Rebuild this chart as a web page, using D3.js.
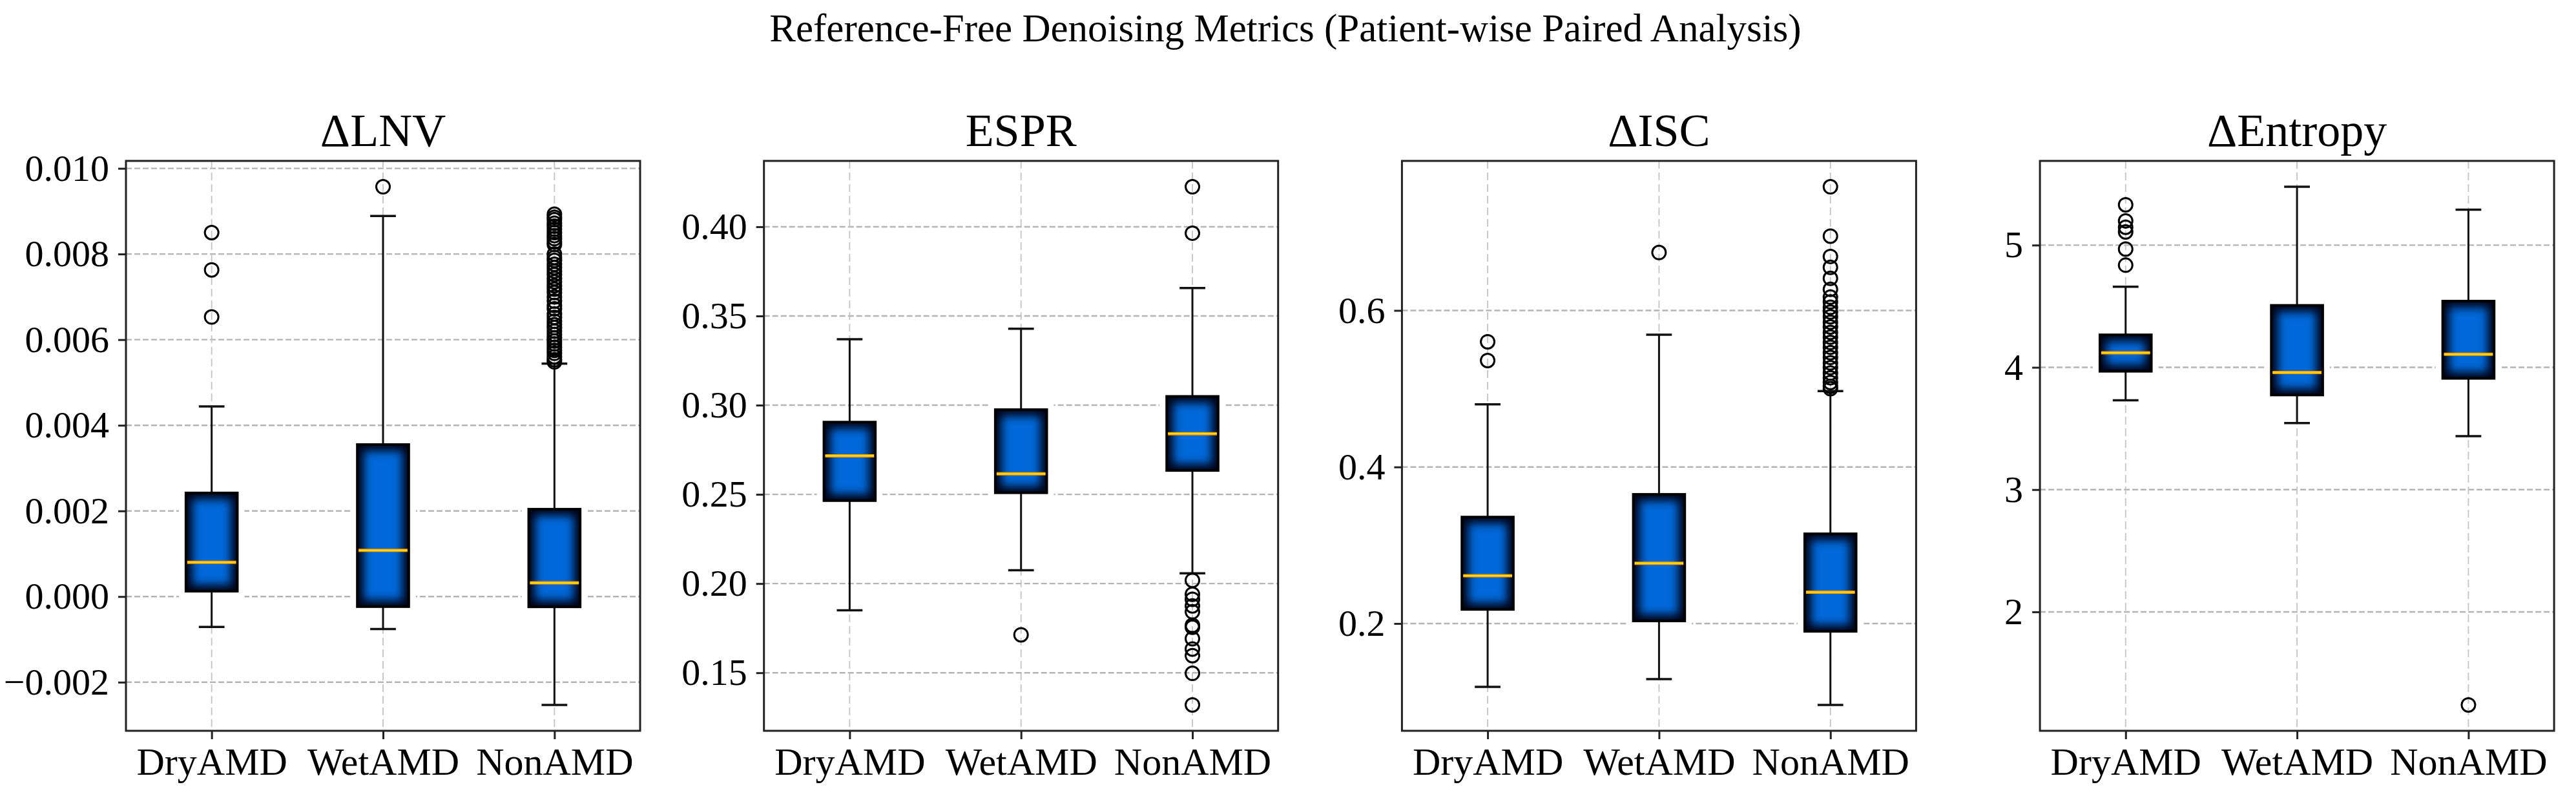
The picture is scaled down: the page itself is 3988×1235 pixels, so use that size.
<!DOCTYPE html>
<html>
<head>
<meta charset="utf-8">
<script src="https://cdn.jsdelivr.net/npm/d3@7"></script>
<style>
  body { margin: 0; background: #fff; }
  text { font-family: "Liberation Serif", "DejaVu Serif", serif; fill: #000; }
</style>
</head>
<body>
<script>
// groups along the x axis
var categories = ["DryAMD", "WetAMD", "NonAMD"];
var titles = ["\u0394LNV", "ESPR", "\u0394ISC", "\u0394Entropy"];

// five numbers per group: lower whisker, q1, median, q3, upper whisker
var lnvBoxes = [
	[-0.00071, 0.000126, 0.00080, 0.00242, 0.00444],
	[-0.00076, -0.000235, 0.00108, 0.00355, 0.00889],
	[-0.00253, -0.00024, 0.00032, 0.00204, 0.00544]
];
var lnvFliers = [
	[0.00850, 0.00763, 0.00653],
	[0.00957],
	[0.00893, 0.00886, 0.00880, 0.00872, 0.00865, 0.00858, 0.00850, 0.00843, 0.00836, 0.00828, 0.00822,
	 0.00800, 0.00792, 0.00785, 0.00776, 0.00768, 0.00760, 0.00752, 0.00743, 0.00735, 0.00726, 0.00718,
	 0.00710, 0.00700, 0.00690, 0.00680, 0.00672, 0.00660, 0.00652, 0.00643, 0.00635, 0.00628, 0.00620,
	 0.00612, 0.00604, 0.00597, 0.00590, 0.00582, 0.00575, 0.00568, 0.00560, 0.00553, 0.00548]
];
var lnvTicks = [-0.002, 0.000, 0.002, 0.004, 0.006, 0.008, 0.010];

var esprBoxes = [
	[0.185, 0.2465, 0.2716, 0.2905, 0.337],
	[0.2075, 0.2509, 0.2615, 0.2975, 0.3428],
	[0.2058, 0.2634, 0.2840, 0.3049, 0.3657]
];
var esprFliers = [
	[],
	[0.1713],
	[0.4224, 0.3964, 0.2018, 0.1940, 0.1912, 0.1875, 0.1842, 0.1766, 0.1755, 0.1691, 0.1633, 0.1596, 0.1497, 0.1320]
];
var esprTicks = [0.15, 0.20, 0.25, 0.30, 0.35, 0.40];

var iscBoxes = [
	[0.119, 0.218, 0.261, 0.336, 0.480],
	[0.129, 0.2033, 0.277, 0.365, 0.569],
	[0.096, 0.190, 0.240, 0.3146, 0.497]
];
var iscFliers = [
	[0.560, 0.536],
	[0.674],
	[0.758, 0.695, 0.669, 0.655, 0.641, 0.627, 0.617, 0.611, 0.604, 0.598, 0.592, 0.585, 0.579, 0.572,
	 0.566, 0.559, 0.553, 0.546, 0.540, 0.533, 0.527, 0.520, 0.514, 0.508, 0.503, 0.500]
];
var iscTicks = [0.2, 0.4, 0.6];

var entBoxes = [
	[3.731, 3.968, 4.119, 4.266, 4.660],
	[3.544, 3.774, 3.958, 4.507, 5.477],
	[3.437, 3.910, 4.107, 4.542, 5.290]
];
var entFliers = [
	[5.330, 5.198, 5.146, 5.108, 4.968, 4.836],
	[],
	[1.239]
];
var entTicks = [2, 3, 4, 5];

var panels = [
	{title: titles[0], boxes: lnvBoxes, fliers: lnvFliers, ticks: lnvTicks, fmt: d3.format(".3f")},
	{title: titles[1], boxes: esprBoxes, fliers: esprFliers, ticks: esprTicks, fmt: d3.format(".2f")},
	{title: titles[2], boxes: iscBoxes, fliers: iscFliers, ticks: iscTicks, fmt: d3.format(".1f")},
	{title: titles[3], boxes: entBoxes, fliers: entFliers, ticks: entTicks, fmt: d3.format("d")}
];

var W = 3988, H = 1235;
var svg = d3.select("body").append("svg").attr("width", W).attr("height", H);
var defs = svg.append("defs");
defs.append("filter").attr("id", "glow").attr("x", "-20%").attr("y", "-20%").attr("width", "140%").attr("height", "140%")
	.append("feGaussianBlur").attr("stdDeviation", 7);

svg.append("text")
	.attr("x", 1990).attr("y", 64)
	.attr("text-anchor", "middle")
	.style("font-size", "61px")
	.text("Reference-Free Denoising Metrics (Patient-wise Paired Analysis)");

var plotTop = 249, plotBottom = 1131, pw = 796;

panels.forEach(function(p, i){
	var left = 195 + i * 987.7;
	var right = left + pw;
	var g = svg.append("g");

	var x = d3.scaleLinear().domain([0.5, 3.5]).range([left, right]);
	var all = d3.merge(p.boxes.concat(p.fliers));
	var lo = d3.min(all), hi = d3.max(all), pad = (hi - lo) * 0.05;
	var y = d3.scaleLinear().domain([lo - pad, hi + pad]).range([plotBottom, plotTop]);

	// grid
	g.selectAll(".hgrid").data(p.ticks).enter().append("line")
		.attr("x1", left).attr("x2", right)
		.attr("y1", function(d){ return y(d); }).attr("y2", function(d){ return y(d); })
		.attr("stroke", "#b4b4b4").attr("stroke-width", 2.4).attr("stroke-dasharray", "9,4");
	g.selectAll(".vgrid").data([1, 2, 3]).enter().append("line")
		.attr("y1", plotTop).attr("y2", plotBottom)
		.attr("x1", function(d){ return x(d); }).attr("x2", function(d){ return x(d); })
		.attr("stroke", "#c4c4c4").attr("stroke-width", 1.8).attr("stroke-dasharray", "12,6");

	var bw = 0.3 * (x(2) - x(1));
	var cw = 0.15 * (x(2) - x(1));

	p.boxes.forEach(function(b, j){
		var cx = x(j + 1);
		var y1 = y(b[3]), y0 = y(b[1]);
		// white halo behind the box
		g.append("rect").attr("x", cx - bw / 2 - 11).attr("y", y1 - 11)
			.attr("width", bw + 22).attr("height", y0 - y1 + 22).attr("fill", "#fff");
		// whiskers and caps
		[[b[0], b[1]], [b[4], b[3]]].forEach(function(w){
			g.append("line").attr("x1", cx).attr("x2", cx)
				.attr("y1", y(w[0])).attr("y2", y(w[1]))
				.attr("stroke", "#111").attr("stroke-width", 3);
			g.append("line").attr("x1", cx - cw / 2).attr("x2", cx + cw / 2)
				.attr("y1", y(w[0])).attr("y2", y(w[0]))
				.attr("stroke", "#111").attr("stroke-width", 3.5);
		});
		// box with dark inner glow
		var cid = "clip" + i + "_" + j;
		defs.append("clipPath").attr("id", cid).append("rect")
			.attr("x", cx - bw / 2).attr("y", y1).attr("width", bw).attr("height", y0 - y1);
		var bg = g.append("g").attr("clip-path", "url(#" + cid + ")");
		bg.append("rect").attr("x", cx - bw / 2).attr("y", y1).attr("width", bw).attr("height", y0 - y1)
			.attr("fill", "#000418");
		bg.append("rect").attr("x", cx - bw / 2 + 10).attr("y", y1 + 10)
			.attr("width", Math.max(bw - 20, 0)).attr("height", Math.max(y0 - y1 - 20, 0))
			.attr("fill", "#0068d8").attr("filter", "url(#glow)");
		g.append("rect").attr("x", cx - bw / 2).attr("y", y1).attr("width", bw).attr("height", y0 - y1)
			.attr("fill", "none").attr("stroke", "#000").attr("stroke-width", 4);
		// median
		g.append("line").attr("x1", cx - bw / 2 + 2).attr("x2", cx + bw / 2 - 2)
			.attr("y1", y(b[2])).attr("y2", y(b[2]))
			.attr("stroke", "#ff9a00").attr("stroke-width", 5);
		g.append("line").attr("x1", cx - bw / 2 + 2).attr("x2", cx + bw / 2 - 2)
			.attr("y1", y(b[2])).attr("y2", y(b[2]))
			.attr("stroke", "#ffe000").attr("stroke-width", 2.2);
	});

	// outliers
	p.fliers.forEach(function(f, j){
		g.selectAll(".fl" + j).data(f).enter().append("circle")
			.attr("cx", x(j + 1)).attr("cy", function(d){ return y(d); })
			.attr("r", 10.5).attr("fill", "none").attr("stroke", "#000").attr("stroke-width", 3);
	});

	// spines
	g.append("rect").attr("x", left).attr("y", plotTop).attr("width", pw).attr("height", plotBottom - plotTop)
		.attr("fill", "none").attr("stroke", "#222").attr("stroke-width", 3);

	var ya = g.append("g").attr("transform", "translate(" + left + ",0)")
		.call(d3.axisLeft(y).tickValues(p.ticks).tickFormat(p.fmt).tickSize(12).tickPadding(14));
	var xa = g.append("g").attr("transform", "translate(0," + plotBottom + ")")
		.call(d3.axisBottom(x).tickValues([1, 2, 3]).tickFormat(function(d){ return categories[d - 1]; }).tickSize(13).tickPadding(12));
	[ya, xa].forEach(function(a){
		a.select(".domain").remove();
		a.selectAll(".tick line").attr("stroke", "#222").attr("stroke-width", 3);
		a.selectAll(".tick text").style("font-size", "58px").style("font-family", "Liberation Serif, serif").attr("fill", "#000");
	});
	xa.selectAll(".tick text").style("font-size", "60px");

	g.append("text")
		.attr("x", (left + right) / 2).attr("y", 226)
		.attr("text-anchor", "middle")
		.style("font-size", "72px")
		.text(p.title);
});
</script>
</body>
</html>
